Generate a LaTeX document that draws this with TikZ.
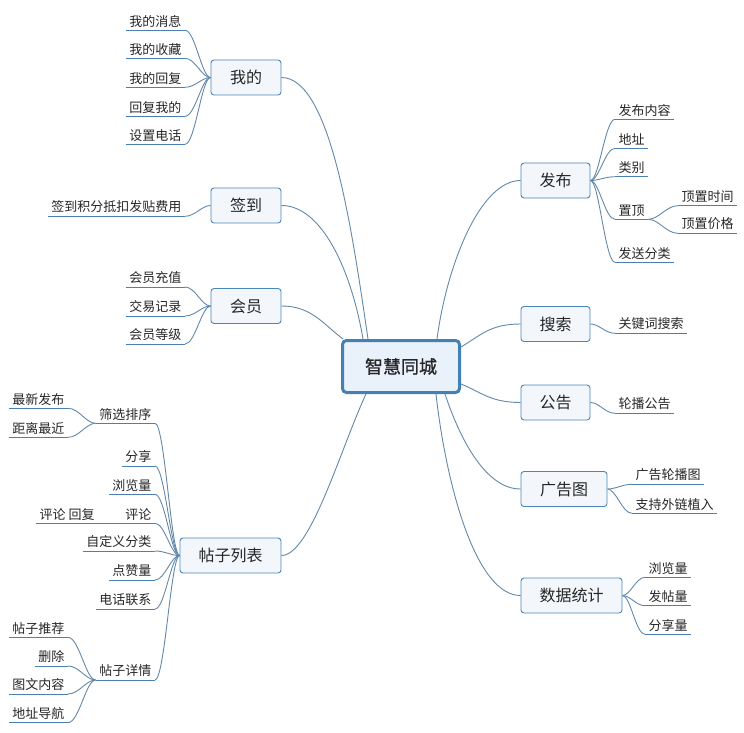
\documentclass[tikz,border=0pt]{standalone}
\usepackage{fontspec}
\newfontfamily\cjk{Noto Sans CJK SC}
\newfontfamily\cjkb[FakeBold=1]{Noto Sans CJK SC}
\usetikzlibrary{calc,backgrounds}
\definecolor{nodeblue}{HTML}{4A86B8}
\definecolor{mainblue}{HTML}{4580B2}
\definecolor{topicfill}{HTML}{F3F7FC}
\definecolor{mainfill}{HTML}{E9F1FB}
\definecolor{connc}{HTML}{6488A8}
\definecolor{ulc}{HTML}{4A80B0}
\definecolor{txt}{HTML}{262626}
\tikzset{
  mainnode/.style={draw=mainblue,line width=3pt,fill=mainfill,rounded corners=4pt,
    minimum width=117pt,minimum height=52pt,inner sep=0pt,text=txt,
    font=\cjkb\fontsize{18}{18}\selectfont},
  topic/.style={draw=nodeblue,line width=0.9pt,fill=topicfill,rounded corners=3pt,
    minimum height=35pt,inner sep=0pt,text=txt,font=\cjk\fontsize{16}{16}\selectfont},
  leaf/.style={inner xsep=3.5pt,inner ysep=3pt,text=txt,font=\cjk\fontsize{13}{13}\selectfont},
  conn/.style={draw=connc,line width=0.9pt},
  uline/.style={draw=ulc,line width=1pt},
}
\newcommand{\mmlink}[2]{\draw[conn] let \p1=(#1), \p2=(#2) in (\p1) .. controls ({\x1+0.35*(\x2-\x1)},\y1) and ({\x1+0.6*(\x2-\x1)},\y2) .. (\p2);}
\begin{document}
\begin{tikzpicture}[x=1pt,y=-1pt]
\useasboundingbox (0,0) rectangle (744,733);
% central
\node[mainnode] (c) at (401,366.5) {智慧同城};
% topics
\node[topic,minimum width=70pt] (wo) at (246,77.5) {我的};
\node[topic,minimum width=70pt] (qd) at (246,205.5) {签到};
\node[topic,minimum width=70pt] (hy) at (246,306) {会员};
\node[topic,minimum width=101pt] (tz) at (230.5,555.5) {帖子列表};
\node[topic,minimum width=69pt] (fb) at (555.5,180.5) {发布};
\node[topic,minimum width=69pt] (ss) at (555.5,324) {搜索};
\node[topic,minimum width=69pt] (gg) at (555.5,402.5) {公告};
\node[topic,minimum width=86pt] (ggt) at (564,489) {广告图};
\node[topic,minimum width=101pt] (sj) at (571.5,595.5) {数据统计};
% left leaves
\node[leaf,anchor=south east] (w1) at (185,30.3) {我的消息};
\node[leaf,anchor=south east] (w2) at (185,58.3) {我的收藏};
\node[leaf,anchor=south east] (w3) at (185,87.3) {我的回复};
\node[leaf,anchor=south east] (w4) at (185,116.3) {回复我的};
\node[leaf,anchor=south east] (w5) at (185,144.3) {设置电话};
\node[leaf,anchor=south east] (q1) at (185,216.3) {签到积分抵扣发贴费用};
\node[leaf,anchor=south east] (h1) at (185,287) {会员充值};
\node[leaf,anchor=south east] (h2) at (185,316) {交易记录};
\node[leaf,anchor=south east] (h3) at (185,344) {会员等级};
\node[leaf,anchor=south east] (t1) at (155,423.3) {筛选排序};
\node[leaf,anchor=south east] (t2) at (155,466) {分享};
\node[leaf,anchor=south east] (t3) at (155,494.3) {浏览量};
\node[leaf,anchor=south east] (t4) at (155,523.3) {评论};
\node[leaf,anchor=south east] (t5) at (155,551) {自定义分类};
\node[leaf,anchor=south east] (t6) at (155,580) {点赞量};
\node[leaf,anchor=south east] (t7) at (155,609) {电话联系};
\node[leaf,anchor=south east] (t8) at (155,680) {帖子详情};
\node[leaf,anchor=south east] (s1) at (68,408.3) {最新发布};
\node[leaf,anchor=south east] (s2) at (68,437.3) {距离最近};
\node[leaf,anchor=south west] (p1) at (36,523.3) {评论 回复};
\node[leaf,anchor=south east] (d1) at (68,637.3) {帖子推荐};
\node[leaf,anchor=south east] (d2) at (68,666) {删除};
\node[leaf,anchor=south east] (d3) at (68,694) {图文内容};
\node[leaf,anchor=south east] (d4) at (68,722.7) {地址导航};
% right leaves
\node[leaf,anchor=south west] (f1) at (615,119.3) {发布内容};
\node[leaf,anchor=south west] (f2) at (615,148.3) {地址};
\node[leaf,anchor=south west] (f3) at (615,176.7) {类别};
\node[leaf,anchor=south west] (f4) at (615,219.3) {置顶};
\node[leaf,anchor=south west] (f5) at (615,262.3) {发送分类};
\node[leaf,anchor=south west] (z1) at (678,205.7) {顶置时间};
\node[leaf,anchor=south west] (z2) at (678,233.3) {顶置价格};
\node[leaf,anchor=south west] (k1) at (615,333.3) {关键词搜索};
\node[leaf,anchor=south west] (l1) at (615,413.3) {轮播公告};
\node[leaf,anchor=south west] (a1) at (632,484.3) {广告轮播图};
\node[leaf,anchor=south west] (a2) at (632,513.3) {支持外链植入};
\node[leaf,anchor=south west] (n1) at (645,577.3) {浏览量};
\node[leaf,anchor=south west] (n2) at (645,605.7) {发帖量};
\node[leaf,anchor=south west] (n3) at (645,634.3) {分享量};
% underlines
\foreach \k in {w1,w2,w3,w4,w5,q1,h1,h2,h3,t1,t2,t3,t4,t5,t6,t7,t8,s1,s2,p1,d1,d2,d3,d4,
  f1,f2,f3,f4,f5,z1,z2,k1,l1,a1,a2,n1,n2,n3}
  {\draw[uline] (\k.south west) -- (\k.south east);}
\begin{scope}[on background layer]
% main connectors
\draw[conn] (wo.east) .. controls +(49,0) and +(-16,-109) .. ([xshift=27pt]c.north west);
\draw[conn] (qd.east) .. controls +(40,0) and +(-12,-70) .. ([xshift=22pt]c.north west);
\draw[conn] (hy.east) .. controls +(30,0) and +(-20,-15) .. ([xshift=2pt]c.north west);
\draw[conn] (tz.east) .. controls +(29,0) and +(-26,56) .. ([xshift=25pt]c.south west);
\draw[conn] (fb.west) .. controls +(-40,0) and +(10,-75) .. ([xshift=-24pt]c.north east);
\draw[conn] (ss.west) .. controls +(-30,0) and +(20,-12) .. ([yshift=-8pt]c.north east);
\draw[conn] (gg.west) .. controls +(-30,0) and +(20,8) .. ([yshift=10pt]c.south east);
\draw[conn] (ggt.west) .. controls +(-35,0) and +(15,45) .. ([xshift=-16pt]c.south east);
\draw[conn] (sj.west) .. controls +(-45,0) and +(10,90) .. ([xshift=-25pt]c.south east);
% leaf connectors
\foreach \k in {w1,w2,w3,w4,w5} {\mmlink{wo.west}{\k.south east}}
\mmlink{qd.west}{q1.south east}
\foreach \k in {h1,h2,h3} {\mmlink{hy.west}{\k.south east}}
\foreach \k in {t1,t2,t3,t4,t5,t6,t7,t8} {\mmlink{tz.west}{\k.south east}}
\foreach \k in {s1,s2} {\mmlink{t1.south west}{\k.south east}}
\draw[uline] (p1.south east) -- (t4.south west);
\foreach \k in {d1,d2,d3,d4} {\mmlink{t8.south west}{\k.south east}}
\foreach \k in {f1,f2,f3,f4,f5} {\mmlink{fb.east}{\k.south west}}
\foreach \k in {z1,z2} {\mmlink{f4.south east}{\k.south west}}
\mmlink{ss.east}{k1.south west}
\mmlink{gg.east}{l1.south west}
\foreach \k in {a1,a2} {\mmlink{ggt.east}{\k.south west}}
\foreach \k in {n1,n2,n3} {\mmlink{sj.east}{\k.south west}}
\end{scope}
\end{tikzpicture}
\end{document}
